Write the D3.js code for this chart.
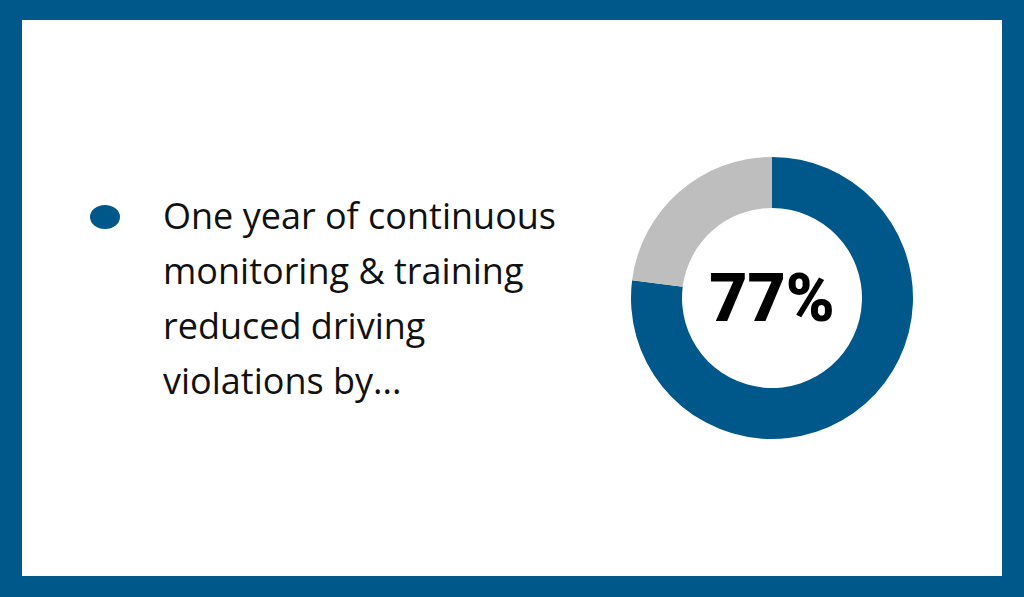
<!DOCTYPE html><html><head><meta charset="utf-8">
<script src="https://cdn.jsdelivr.net/npm/d3@7"></script>
<style>body{margin:0;}</style></head><body>
<svg id="c" width="1024" height="597"></svg>
<script>
const categories = ["Reduced", "Remaining"];
const values = [77, 23];
const centerLabel = "77%";
const textLines = ["One year of continuous","monitoring & training","reduced driving","violations by..."];
const colors = ["#00578a", "#bebebf"];

const svg = d3.select("#c");
svg.append("rect").attr("width",1024).attr("height",597).attr("fill","#00578a");
svg.append("rect").attr("x",22).attr("y",20).attr("width",980).attr("height",556).attr("fill","#fff");

svg.append("ellipse").attr("cx",105).attr("cy",217).attr("rx",15).attr("ry",12).attr("fill","#00578a");
svg.append("g").selectAll("text").data(textLines).join("text")
  .attr("x",163).attr("y",(d,i)=>229+i*55)
  .attr("font-family","Open Sans").attr("font-size",36).attr("fill","#111").text(d=>d);

const pie = d3.pie().sort(null).value(d=>d)(values);
const arc = d3.arc().innerRadius(90).outerRadius(141);
const g = svg.append("g").attr("transform","translate(772,298)");
g.selectAll("path").data(pie).join("path").attr("d",arc).attr("fill",(d,i)=>colors[i]);
g.append("text").attr("text-anchor","middle").attr("y",23)
  .attr("font-family","Roboto").attr("font-weight",900).attr("font-size",66).attr("fill","#000").text(centerLabel);
</script></body></html>
